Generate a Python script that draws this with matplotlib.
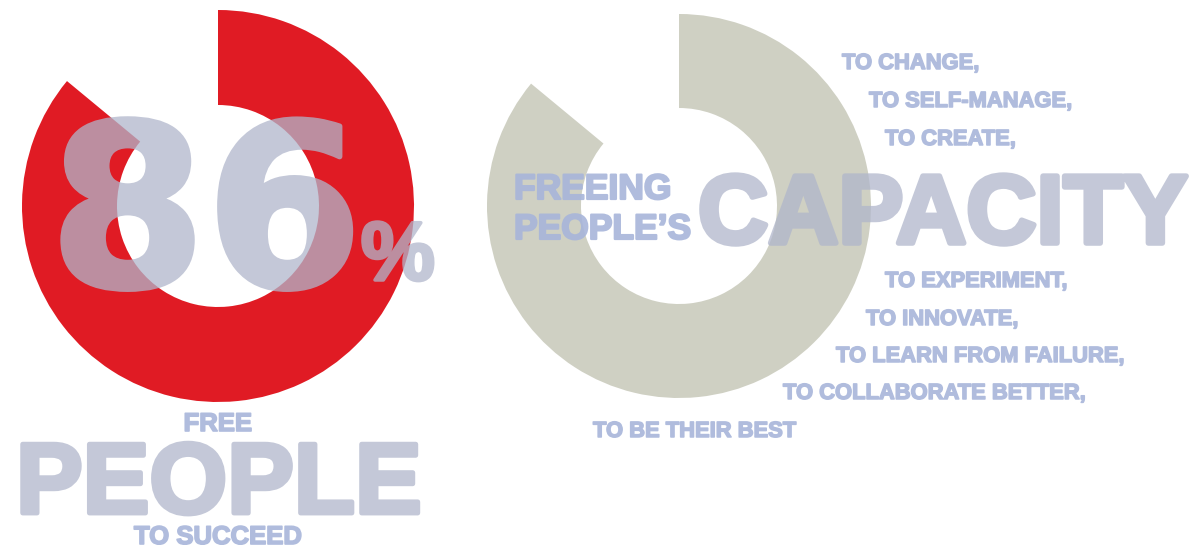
import matplotlib
matplotlib.use("Agg")
import matplotlib.pyplot as plt
import matplotlib.patheffects as pe

# share of people freed, and the rest (the gap in the ring)
freed_share = [86, 14]
capacity_share = [86, 14]

ring_colors_left = ["#e01b24", "none"]
ring_colors_right = ["#cfd0c3", "none"]

big_label = "86"
pct_sign = "%"
left_words = ["FREE", "PEOPLE", "TO SUCCEED"]
right_head = ["FREEING", "PEOPLE\u2019S"]
right_word = "CAPACITY"
upper_lines = ["TO CHANGE,", "TO SELF-MANAGE,", "TO CREATE,"]
lower_lines = ["TO EXPERIMENT,", "TO INNOVATE,", "TO LEARN FROM FAILURE,",
               "TO COLLABORATE BETTER,", "TO BE THEIR BEST"]

W, H = 1192, 545
fig = plt.figure(figsize=(W / 100, H / 100), dpi=100)
ax = fig.add_axes([0, 0, 1, 1])

# ring charts, pixel-like coordinates (y measured up from bottom)
ax.pie(freed_share, colors=ring_colors_left, startangle=90, counterclock=False,
       center=(218, H - 206), radius=196, frame=True,
       wedgeprops=dict(width=95, linewidth=0))
ax.pie(capacity_share, colors=ring_colors_right, startangle=90, counterclock=False,
       center=(679, H - 206), radius=192, frame=True,
       wedgeprops=dict(width=94, linewidth=0))

ax.set_xlim(0, W)
ax.set_ylim(0, H)
ax.set_aspect("auto")
ax.axis("off")

big_col = "#b0b6cb"
small_col = "#a7b5da"


def fade(a):
    # make the whole text (fill + stroke) see-through in one go
    def _f(img, dpi):
        img = img.copy()
        img[..., 3] *= a
        return img, 0, 0
    return _f


def put(x, y, s, size, ha="left", col=small_col, alpha=0.9, lw=1.0,
        fam="Liberation Sans"):
    t = ax.text(x, H - y, s, fontsize=size, ha=ha, va="baseline", color=col,
                fontweight="bold", family=fam, zorder=5)
    t.set_path_effects([pe.Stroke(linewidth=lw, foreground=col), pe.Normal()])
    t.set_agg_filter(fade(alpha))


# left block
put(206, 286, big_label, 162, ha="center", col=big_col, alpha=0.75, lw=4,
    fam="DejaVu Sans")
put(398, 280, pct_sign, 60, ha="center", col=big_col, alpha=0.75, lw=2.5)
put(218, 431, left_words[0], 18.5, ha="center", lw=1.2)
put(219, 513, left_words[1], 72, ha="center", col=big_col, alpha=0.75, lw=3.5)
put(218, 544, left_words[2], 18.5, ha="center", lw=1.2)

# right block
put(514, 199, right_head[0], 25.5, lw=1.6)
put(514, 239, right_head[1], 25.5, lw=1.6)
put(698, 243, right_word, 70, col=big_col, alpha=0.75, lw=4)

upper_x = [842, 869, 885]
upper_y = [69, 107, 145]
for x, y, s in zip(upper_x, upper_y, upper_lines):
    put(x, y, s, 15.8, lw=1.1)

lower_x = [885, 866, 836, 783, 593]
lower_y = [287, 325, 362, 399, 437]
for x, y, s in zip(lower_x, lower_y, lower_lines):
    put(x, y, s, 15.8, lw=1.1)

fig.savefig("out.png", dpi=100, facecolor="white")
